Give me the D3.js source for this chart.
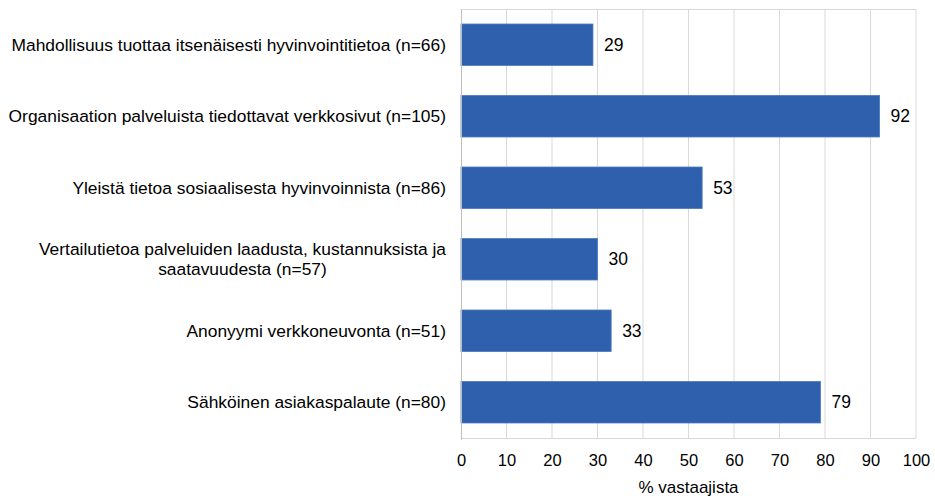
<!DOCTYPE html>
<html>
<head>
<meta charset="utf-8">
<script src="https://cdn.jsdelivr.net/npm/d3@7"></script>
<style>
  body { margin: 0; background: #fff; }
  svg text { font-family: "Liberation Sans", Arial, sans-serif; fill: #000; }
</style>
</head>
<body>
<div id="chart"></div>
<script>
// data
const categories = [
    "Mahdollisuus tuottaa itsenäisesti hyvinvointitietoa (n=66)",
    "Organisaation palveluista tiedottavat verkkosivut (n=105)",
    "Yleistä tietoa sosiaalisesta hyvinvoinnista (n=86)",
    "Vertailutietoa palveluiden laadusta, kustannuksista ja saatavuudesta (n=57)",
    "Anonyymi verkkoneuvonta (n=51)",
    "Sähköinen asiakaspalaute (n=80)"
];
const values = [29, 92, 53, 30, 33, 79];
const xTicks = [0, 10, 20, 30, 40, 50, 60, 70, 80, 90, 100];
const xTitle = "% vastaajista";

const data = categories.map((c, i) => ({ label: c, value: values[i] }));

const width = 935;
const height = 496;
const plotLeft = 461, plotRight = 916, plotTop = 9, plotBottom = 438;

const svg = d3.select("#chart").append("svg")
    .attr("width", width)
    .attr("height", height);

const xScale = d3.scaleLinear().domain([0, 100]).range([plotLeft, plotRight]);
const yScale = d3.scaleBand()
    .domain(categories)
    .range([plotTop, plotBottom])
    .paddingInner(0.42)
    .paddingOuter(0.21);

// grid lines
svg.append("g").selectAll("line").data(xTicks.slice(1)).join("line")
    .attr("x1", d => xScale(d)).attr("x2", d => xScale(d))
    .attr("y1", plotTop).attr("y2", plotBottom)
    .attr("stroke", "#d9d9d9").attr("stroke-width", 1);

svg.append("line")
    .attr("x1", plotLeft).attr("x2", plotRight).attr("y1", plotTop + 0.5).attr("y2", plotTop + 0.5)
    .attr("stroke", "#d9d9d9");
svg.append("line")
    .attr("x1", plotLeft).attr("x2", plotRight).attr("y1", plotBottom + 0.5).attr("y2", plotBottom + 0.5)
    .attr("stroke", "#d9d9d9");

// bars
const bars = svg.append("g").selectAll("g").data(data).join("g")
    .attr("transform", d => `translate(0, ${yScale(d.label)})`);

bars.append("rect")
    .attr("x", xScale(0))
    .attr("y", 0)
    .attr("width", d => xScale(d.value) - xScale(0))
    .attr("height", yScale.bandwidth())
    .attr("fill", "#2f60ad")
    .attr("stroke", "#4a78bf")
    .attr("stroke-width", 0.8);

bars.append("text")
    .text(d => d.value)
    .attr("x", d => xScale(d.value) + 11)
    .attr("y", yScale.bandwidth() / 2)
    .attr("dy", "0.35em")
    .style("font-size", "17.5px");

// left axis line
svg.append("line")
    .attr("x1", plotLeft + 0.5).attr("x2", plotLeft + 0.5)
    .attr("y1", plotTop).attr("y2", plotBottom + 2)
    .attr("stroke", "#bfbfbf");

// x axis
const xAxis = svg.append("g")
    .attr("transform", `translate(0, ${plotBottom})`)
    .call(d3.axisBottom(xScale).tickValues(xTicks).tickSize(0).tickPadding(16));
xAxis.select(".domain").remove();
xAxis.selectAll("text").style("font-size", "16.5px").attr("fill", "#000");

svg.append("text")
    .text(xTitle)
    .attr("x", (plotLeft + plotRight) / 2)
    .attr("y", 493)
    .attr("text-anchor", "middle")
    .style("font-size", "17px");

// category labels, wrapped where too long
const labelX = 446;
const maxLabelWidth = 440;
const lineHeight = 20;

bars.each(function (d) {
    const g = d3.select(this);
    const t = g.append("text").style("font-size", "17.4px").attr("text-anchor", "end");
    const words = d.label.split(" ");
    const lines = [];
    let cur = [];
    for (const w of words) {
        cur.push(w);
        t.text(cur.join(" "));
        if (t.node().getComputedTextLength() > maxLabelWidth && cur.length > 1) {
            cur.pop();
            lines.push(cur.join(" "));
            cur = [w];
        }
    }
    lines.push(cur.join(" "));
    t.text(null);
    if (lines.length === 1) {
        t.append("tspan").text(lines[0])
            .attr("x", labelX)
            .attr("y", yScale.bandwidth() / 2)
            .attr("dy", "0.35em");
    } else {
        // wrapped lines centered on each other, block right-aligned
        const widths = lines.map(l => { t.text(l); return t.node().getComputedTextLength(); });
        t.text(null);
        const cx = labelX - d3.max(widths) / 2;
        t.attr("text-anchor", "middle");
        lines.forEach((l, i) => {
            t.append("tspan").text(l)
                .attr("x", cx)
                .attr("y", yScale.bandwidth() / 2 + (i - (lines.length - 1) / 2) * lineHeight)
                .attr("dy", "0.35em");
        });
    }
});
</script>
</body>
</html>
